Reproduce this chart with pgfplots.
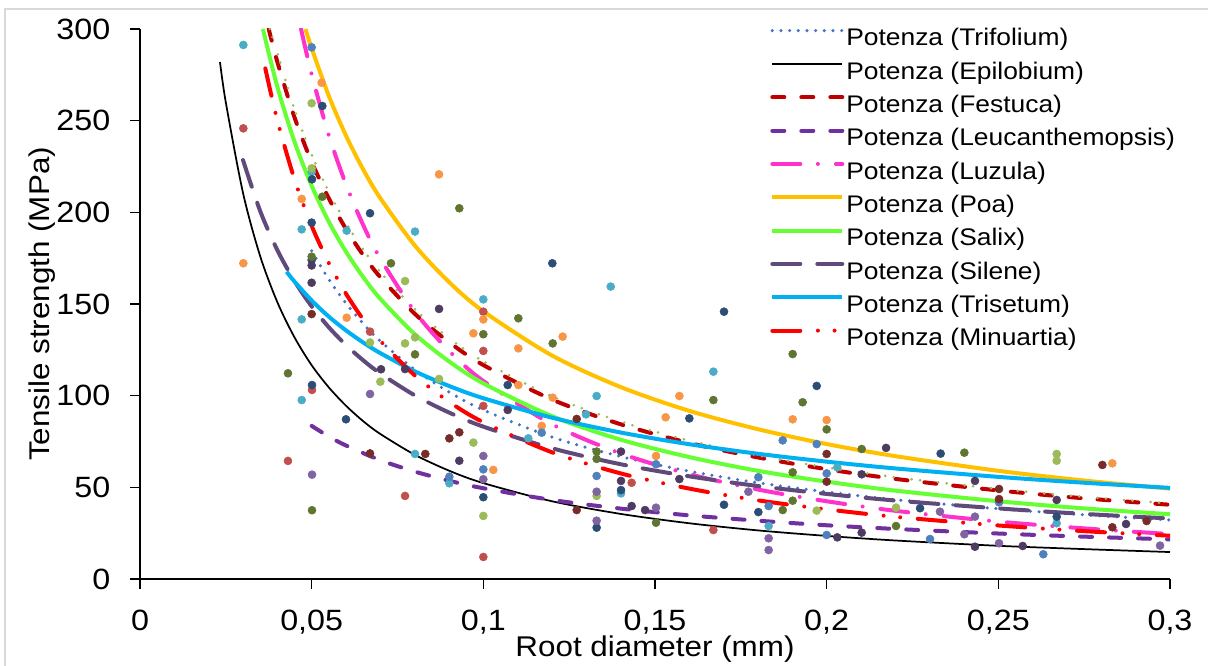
\documentclass[border=0pt]{standalone}
\usepackage{pgfplots}
\pgfplotsset{compat=1.18}
\usepackage{fontspec}
\setmainfont{Liberation Sans}[FakeStretch=1.1]

% trend line colours
\definecolor{cTrif}{HTML}{4472C4}
\definecolor{cFest}{HTML}{C00000}
\definecolor{cLeuc}{HTML}{7030A0}
\definecolor{cLuz}{HTML}{FF33CC}
\definecolor{cPoa}{HTML}{FFC000}
\definecolor{cSal}{HTML}{66FF33}
\definecolor{cSil}{HTML}{604A7B}
\definecolor{cTris}{HTML}{00B0F0}
\definecolor{cMin}{HTML}{FF0000}
\definecolor{cXtra}{HTML}{9BBB59}
% point colours
\definecolor{pCyan}{HTML}{4BACC6}
\definecolor{pRed}{HTML}{C0504D}
\definecolor{pOrange}{HTML}{F79646}
\definecolor{pBlue}{HTML}{4F81BD}
\definecolor{pLgreen}{HTML}{9BBB59}
\definecolor{pNavy}{HTML}{2C4D75}
\definecolor{pOlive}{HTML}{5F7530}
\definecolor{pDpurple}{HTML}{4D3B62}
\definecolor{pMaroon}{HTML}{772C2A}
\definecolor{pLav}{HTML}{8064A2}

\pgfplotsset{
  pts/.style={only marks, mark=*, mark size=3pt, forget plot, color=#1,
    mark options={solid, draw=#1, fill=#1, line width=0.4pt}},
  trend/.style={no markers, smooth, line width=3pt},
}

\begin{document}
\begin{tikzpicture}
\path[use as bounding box] (0pt,0pt) rectangle (906pt,499.5pt);
\draw[color=black!15, line width=1.1pt] (3.75pt,0pt) -- (3.75pt,492.75pt) -- (906pt,492.75pt);
\begin{axis}[
  at={(105pt,65.25pt)}, anchor=south west,
  scale only axis, width=772.5pt, height=412.5pt,
  xmin=0, xmax=0.3, ymin=0, ymax=300,
  axis lines=left, axis line style={-, line width=1.2pt},
  tick align=outside, major tick length=7.5pt,
  tick style={black, line width=1.2pt},
  xtick={0,0.05,0.1,0.15,0.2,0.25,0.3},
  xticklabels={0,{0,05},{0,1},{0,15},{0,2},{0,25},{0,3}},
  ytick={0,50,100,150,200,250,300},
  yticklabels={0,50,100,150,200,250,300},
  /pgf/number format/assume math mode=true,
  tick label style={font=\fontsize{22}{24}\selectfont},
  xticklabel style={yshift=-12pt},
  yticklabel style={xshift=-11.25pt},
  xlabel={Root diameter (mm)},
  ylabel={Tensile strength (MPa)},
  label style={font=\fontsize{21.4}{24}\selectfont},
  xlabel style={at={(rel axis cs:0.5,0)}, anchor=base, yshift=-58.5pt},
  ylabel style={at={(rel axis cs:0,0.5)}, anchor=base, yshift=67.5pt},
  legend cell align=left,
  legend image code/.code={\draw[#1] (0pt,6.75pt) -- (52.5pt,6.75pt);},
  legend style={at={(rel axis cs:0.6117,1.0036)}, anchor=north west,
    draw=none, fill=none, inner sep=0pt, row sep=6.5pt,
    font=\fontsize{18}{20}\selectfont,
    nodes={inner sep=0pt, text height=14pt, text depth=4.5pt},
    /tikz/every odd column/.append style={column sep=1.5pt}},
]

% ---- measured points ----
\addplot[pts=pCyan] coordinates {(0.0301,291.3) (0.05,222) (0.0471,190.7) (0.0602,190) (0.0471,141.6) (0.0801,189.5) (0.0471,97.6) (0.0801,68.2) (0.0901,52.2) (0.1,152.5) (0.1371,159.5) (0.167,113.1) (0.133,99.8) (0.1299,89.8) (0.1131,76.7) (0.1401,46.7) (0.1831,28.9) (0.2031,60.9) (0.267,30.4)};
\addplot[pts=pRed] coordinates {(0.0301,245.8) (0.067,134.9) (0.0501,103.1) (0.0431,64.4) (0.0772,45.3) (0.1,145.8) (0.1,124.4) (0.1,94.4) (0.1,12.0) (0.1432,52.5) (0.167,26.7) (0.3002,9.1)};
\addplot[pts=pOrange] coordinates {(0.0301,172.2) (0.0529,270.7) (0.0471,207.3) (0.0602,142.5) (0.0871,220.7) (0.0971,134.0) (0.1,141.6) (0.1102,125.8) (0.1231,132.2) (0.1202,98.9) (0.117,83.5) (0.1029,59.5) (0.1503,67.1) (0.1571,99.8) (0.1531,88.2) (0.1901,87.1) (0.2,86.7) (0.2832,63.1) (0.1102,105.8)};
\addplot[pts=pBlue] coordinates {(0.05,290) (0.0901,55.8) (0.117,79.8) (0.1,59.8) (0.133,56.2) (0.1503,62.6) (0.1801,55.5) (0.1831,39.8) (0.1872,75.6) (0.1971,73.6) (0.2,57.6) (0.2,24.0) (0.2301,21.8) (0.2502,41.8) (0.2631,13.5)};
\addplot[pts=pLgreen] coordinates {(0.05,259.5) (0.05,224) (0.0772,162.5) (0.067,129) (0.0772,128.5) (0.0801,131.8) (0.0871,109.1) (0.07,107.6) (0.0971,74.4) (0.1,34.4) (0.133,45.3) (0.1971,37.3) (0.2202,38.9) (0.267,68.2) (0.267,64.5)};
\addplot[pts=pNavy] coordinates {(0.0531,258) (0.0501,218) (0.067,199.5) (0.05,194.4) (0.05,174) (0.0501,105.8) (0.06,87.1) (0.1201,172.2) (0.1701,145.8) (0.1971,105.3) (0.1071,105.8) (0.16,87.6) (0.1,44.6) (0.133,28) (0.1401,48.5) (0.1701,40.5) (0.1801,36.5) (0.2272,38.6) (0.2332,68.4) (0.267,34)};
\addplot[pts=pOlive] coordinates {(0.0531,208.5) (0.0731,172.2) (0.05,175.8) (0.093,202.2) (0.0801,122.5) (0.0431,112.2) (0.0501,37.5) (0.1,133.5) (0.1102,142.2) (0.1202,128.5) (0.167,97.6) (0.1901,122.7) (0.193,96.4) (0.2,81.6) (0.133,69.5) (0.133,65.5) (0.1503,30.7) (0.1872,37.6) (0.1901,58.2) (0.1901,42.7) (0.2102,70.9) (0.2202,28.9) (0.2401,68.9) (0.3002,69.5)};
\addplot[pts=pDpurple] coordinates {(0.05,171) (0.05,161.6) (0.0871,147.3) (0.0702,114.4) (0.0772,114.5) (0.093,64.5) (0.1071,92.2) (0.1401,69.5) (0.1401,53.5) (0.1432,39.8) (0.1471,37.6) (0.1571,54.5) (0.2031,22.7) (0.2102,25.3) (0.2173,71.5) (0.2432,53.5) (0.2432,17.6) (0.2571,18) (0.267,43.1) (0.2872,30) (0.2102,57.1)};
\addplot[pts=pMaroon] coordinates {(0.05,144.5) (0.1272,87.3) (0.0901,76.7) (0.093,80) (0.067,68.5) (0.0831,68.2) (0.1272,37.6) (0.2,68.2) (0.2,53.1) (0.2502,49.1) (0.2502,43.6) (0.2803,62.2) (0.2832,28.2) (0.2932,31.6)};
\addplot[pts=pLav] coordinates {(0.067,100.9) (0.0501,56.9) (0.1,67.1) (0.1,54.4) (0.133,47.6) (0.133,31.8) (0.1503,38.9) (0.1772,47.6) (0.1831,22.2) (0.1831,15.8) (0.233,36.7) (0.2432,34) (0.2401,24.4) (0.2502,19.5) (0.2971,18.2) (0.3002,21.3)};

% ---- power trend lines ----
\addplot[trend, cTrif, line width=2.6pt, line cap=round, dash pattern=on 0pt off 6.5pt] coordinates {
(0.05,179.0) (0.055,163.4) (0.06,150.4) (0.065,139.3) (0.07,129.7) (0.08,114.2) (0.09,102.0) (0.1,92.2) (0.12,77.4) (0.14,66.8) (0.16,58.8) (0.18,52.5) (0.2,47.5) (0.22,43.3) (0.25,38.3) (0.275,35.0) (0.3,32.2)};
\addlegendentry{Potenza (Trifolium)}
\addplot[trend, black, line width=1.3pt] coordinates {
(0.0233,282) (0.025,259.9) (0.03,210.6) (0.035,176.1) (0.04,151.0) (0.045,131.8) (0.05,116.6) (0.055,104.5) (0.06,94.5) (0.065,86.1) (0.07,79.1) (0.08,67.8) (0.09,59.1) (0.1,52.3) (0.12,42.4) (0.14,35.5) (0.16,30.4) (0.18,26.5) (0.2,23.5) (0.22,21.0) (0.25,18.1) (0.275,16.3) (0.3,14.7)};
\addlegendentry{Potenza (Epilobium)}
\addplot[trend, cFest, line cap=round, dash pattern=on 9pt off 12.75pt] coordinates {
(0.0375,300) (0.04,282.1) (0.045,251.8) (0.05,227.5) (0.055,207.6) (0.06,190.9) (0.065,176.7) (0.07,164.6) (0.08,144.7) (0.09,129.2) (0.1,116.7) (0.12,97.9) (0.14,84.4) (0.16,74.2) (0.18,66.3) (0.2,59.9) (0.22,54.6) (0.25,48.3) (0.275,44.0) (0.3,40.5)};
\addlegendentry{Potenza (Festuca)}
\addplot[trend, cXtra, forget plot, line width=2.2pt, line cap=round, dash pattern=on 0pt off 6.4pt on 0pt off 13.6pt] coordinates {
(0.0378,300) (0.04,287.0) (0.045,256.2) (0.05,231.4) (0.055,211.2) (0.06,194.2) (0.065,179.8) (0.07,167.4) (0.08,147.2) (0.09,131.4) (0.1,118.7) (0.12,99.6) (0.14,85.9) (0.16,75.5) (0.18,67.4) (0.2,60.9) (0.22,55.5) (0.25,49.1) (0.275,44.8) (0.3,41.2)};
\addplot[trend, cLeuc, line cap=round, dash pattern=on 9pt off 12.75pt] coordinates {
(0.05,83.5) (0.055,77.7) (0.06,72.8) (0.07,64.8) (0.08,58.6) (0.09,53.6) (0.1,49.5) (0.12,43.1) (0.14,38.4) (0.16,34.7) (0.18,31.8) (0.2,29.3) (0.22,27.3) (0.25,24.8) (0.275,23.1) (0.3,21.6)};
\addlegendentry{Potenza (Leucanthemopsis)}
\addplot[trend, cLuz, line cap=round, dash pattern=on 21pt off 13.2pt on 0pt off 13.5pt] coordinates {
(0.0469,300) (0.05,275.2) (0.055,242.0) (0.06,215.2) (0.065,193.1) (0.07,174.8) (0.08,145.9) (0.09,124.5) (0.1,108.0) (0.12,84.4) (0.14,68.5) (0.16,57.2) (0.18,48.8) (0.2,42.4) (0.22,37.2) (0.25,31.3) (0.275,27.6) (0.3,24.5)};
\addlegendentry{Potenza (Luzula)}
\addplot[trend, cPoa] coordinates {
(0.0482,300) (0.05,289.5) (0.055,263.5) (0.06,241.8) (0.065,223.4) (0.07,207.7) (0.08,182.0) (0.09,162.0) (0.1,146.0) (0.12,121.9) (0.14,104.7) (0.16,91.7) (0.18,81.7) (0.2,73.6) (0.22,67.0) (0.25,59.0) (0.275,53.7) (0.3,49.3)};
\addlegendentry{Potenza (Poa)}
\addplot[trend, cSal] coordinates {
(0.0358,300) (0.04,268.5) (0.045,238.5) (0.05,214.5) (0.055,194.8) (0.06,178.5) (0.065,164.7) (0.07,152.8) (0.08,133.6) (0.09,118.7) (0.1,106.7) (0.12,88.8) (0.14,76.0) (0.16,66.5) (0.18,59.0) (0.2,53.1) (0.22,48.2) (0.25,42.4) (0.275,38.5) (0.3,35.3)};
\addlegendentry{Potenza (Salix)}
\addplot[trend, cSil, line cap=round, dash pattern=on 21pt off 12.75pt] coordinates {
(0.03,228.5) (0.035,200.7) (0.04,179.4) (0.045,162.5) (0.05,148.7) (0.055,137.3) (0.06,127.6) (0.065,119.3) (0.07,112.1) (0.08,100.2) (0.09,90.8) (0.1,83.1) (0.12,71.3) (0.14,62.6) (0.16,56.0) (0.18,50.7) (0.2,46.4) (0.22,42.8) (0.25,38.5) (0.275,35.5) (0.3,33.0)};
\addlegendentry{Potenza (Silene)}
\addplot[trend, cTris] coordinates {
(0.0427,167.6) (0.045,162.2) (0.05,151.9) (0.055,143.1) (0.06,135.6) (0.065,129.0) (0.07,123.2) (0.08,113.3) (0.09,105.3) (0.1,98.6) (0.12,88.0) (0.14,79.9) (0.16,73.5) (0.18,68.3) (0.2,64.0) (0.22,60.3) (0.25,55.7) (0.275,52.5) (0.3,49.7)};
\addlegendentry{Potenza (Trisetum)}
\addplot[trend, cMin, line cap=round, dash pattern=on 21pt off 13.2pt on 0pt off 12.5pt on 0pt off 13.2pt] coordinates {
(0.0365,278.5) (0.04,250.2) (0.045,218.0) (0.05,192.6) (0.055,172.3) (0.06,155.6) (0.065,141.6) (0.07,129.9) (0.08,111.1) (0.09,96.7) (0.1,85.5) (0.12,69.1) (0.14,57.6) (0.16,49.3) (0.18,42.9) (0.2,38.0) (0.22,33.9) (0.25,29.2) (0.275,26.1) (0.3,23.6)};
\addlegendentry{Potenza (Minuartia)}
\end{axis}
\end{tikzpicture}
\end{document}
